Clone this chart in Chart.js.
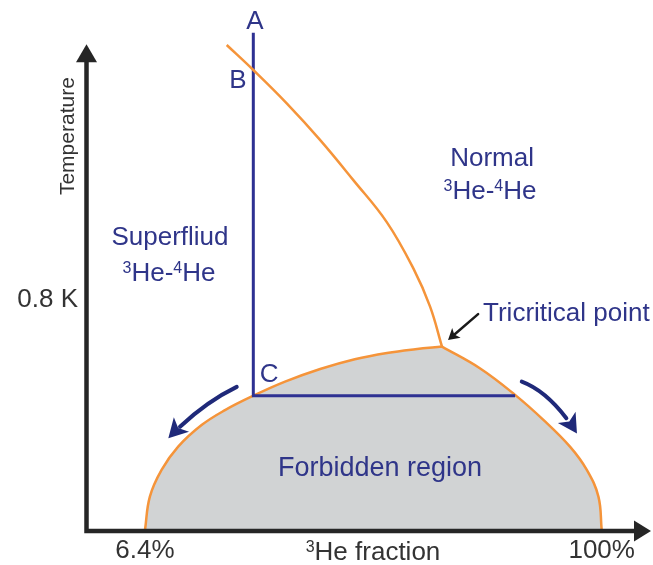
<!DOCTYPE html>
<html>
<head>
<meta charset="utf-8">
<style>
  html, body { margin: 0; padding: 0; background: #ffffff; }
  canvas { display: block; }
</style>
<script src="https://cdn.jsdelivr.net/npm/chart.js@4/dist/chart.umd.min.js"></script>
</head>
<body>
<canvas id="phase" width="653" height="565"></canvas>
<script>
// 3He–4He phase diagram: 3He fraction (%) against temperature (K)

// lambda line: superfluid / normal boundary, ending at the tricritical point
const lambdaX = [23.15, 28.6, 35.45, 42.27, 49.10, 55.95, 61.40, 64.83, 67.27];
const lambdaT = [1.687, 1.600, 1.484, 1.357, 1.217, 1.071, 0.910, 0.777, 0.638];

// phase-separation dome (tricritical point listed twice to keep the corner sharp)
const domeX = [6.4, 7.4, 9.8, 13.2, 18.0, 22.8, 28.6, 35.1, 42.3, 49.4, 56.0, 61.8, 67.27,
               67.27, 75.1, 82.25, 88.05, 93.5, 96.95, 99.33, 100];
const domeT = [0, 0.116, 0.209, 0.290, 0.365, 0.417, 0.467, 0.516, 0.560, 0.594, 0.616, 0.629, 0.638,
               0.638, 0.562, 0.470, 0.383, 0.290, 0.209, 0.116, 0];

// cooling path A -> B -> C, then the tie line across the dome
const pathX = [28.6, 28.6, 82.25];
const pathT = [1.73, 0.467, 0.467];

// axis ticks
const xTickValues = [6.4, 100];
const xTickLabels = ['6.4%', '100%'];
const yTickValues = [0.8];
const yTickLabels = ['0.8 K'];
const xTitle = '^3He fraction';
const yTitle = 'Temperature';

// styling
const FONT = '"Liberation Sans", Arial, Helvetica, sans-serif';
const NAVY = '#2f3589';
const LINE_BLUE = '#2e3192';
const ARROW_BLUE = '#1f2979';
const ORANGE = '#f5943a';
const GREY = '#d1d3d4';
const AXIS = '#262626';
const TICK = '#333333';

// text placed in data units (x in %, t in K)
const notes = [
  { text: 'A', x: 28.95, t: 1.774, size: 26, color: NAVY, align: 'center' },
  { text: 'B', x: 25.46, t: 1.571, size: 26, color: NAVY, align: 'center' },
  { text: 'C', x: 31.82, t: 0.548, size: 26, color: NAVY, align: 'center' },
  { text: 'Superfliud', x: 11.52, t: 1.022, size: 26, color: NAVY, align: 'center' },
  { text: '^3He-^4He', x: 11.32, t: 0.898, size: 26, color: NAVY, align: 'center' },
  { text: 'Normal', x: 77.53, t: 1.298, size: 26, color: NAVY, align: 'center' },
  { text: '^3He-^4He', x: 77.10, t: 1.183, size: 26, color: NAVY, align: 'center' },
  { text: 'Tricritical point', x: 75.68, t: 0.758, size: 26, color: NAVY, align: 'left' },
  { text: 'Forbidden region', x: 54.57, t: 0.221, size: 27, color: NAVY, align: 'center' }
];

// arrows: tail, bend and tip in data units
const arrows = [
  { pts: [[74.67, 0.751], [71.6, 0.706], [68.51, 0.661]], color: '#1a1a1a', width: 2.5, head: 11, half: 6.5 },
  { pts: [[25.20, 0.498], [18.02, 0.423], [11.18, 0.319]], color: ARROW_BLUE, width: 4, head: 19, half: 10.5 },
  { pts: [[83.62, 0.516], [89.43, 0.452], [94.93, 0.336]], color: ARROW_BLUE, width: 4, head: 19, half: 10.5 }
];

function parseRich(str) {
  const runs = [];
  const re = /\^(\d)|[^^]+/g;
  let m;
  while ((m = re.exec(str)) !== null) {
    if (m[1] !== undefined) runs.push({ t: m[1], sup: true });
    else runs.push({ t: m[0], sup: false });
  }
  return runs;
}

function drawRich(ctx, str, x, cy, size, color, align) {
  const runs = parseRich(str);
  const main = size + 'px ' + FONT;
  const sup = Math.round(size * 0.62) + 'px ' + FONT;
  let w = 0;
  runs.forEach(r => { ctx.font = r.sup ? sup : main; r.w = ctx.measureText(r.t).width; w += r.w; });
  let px = align === 'left' ? x : x - w / 2;
  const base = cy + size * 0.358;
  ctx.fillStyle = color;
  ctx.textAlign = 'left';
  ctx.textBaseline = 'alphabetic';
  runs.forEach(r => {
    ctx.font = r.sup ? sup : main;
    ctx.fillText(r.t, px, r.sup ? base - size * 0.33 : base);
    px += r.w;
  });
}

function arrowHead(ctx, tx, ty, ang, len, half, color) {
  const c = Math.cos(ang), s = Math.sin(ang);
  const bx = tx - c * len, by = ty - s * len;
  const nx = tx - c * len * 0.75, ny = ty - s * len * 0.75;
  ctx.fillStyle = color;
  ctx.beginPath();
  ctx.moveTo(tx, ty);
  ctx.lineTo(bx - s * half, by + c * half);
  ctx.lineTo(nx, ny);
  ctx.lineTo(bx + s * half, by - c * half);
  ctx.closePath();
  ctx.fill();
}

const phasePlugin = {
  id: 'phaseDiagram',
  afterDatasetsDraw(chart) {
    const { ctx, chartArea, scales } = chart;
    const xs = scales.x, ys = scales.y;
    ctx.save();

    // axes with arrowheads
    const ox = chartArea.left + 0.5, oy = chartArea.bottom + 1;
    const yTop = ys.getPixelForValue(1.69);
    const xEnd = chartArea.right + 1;
    ctx.strokeStyle = AXIS;
    ctx.lineWidth = 4.5;
    ctx.lineCap = 'butt';
    ctx.beginPath();
    ctx.moveTo(ox, oy + 2.25);
    ctx.lineTo(ox, yTop + 14);
    ctx.moveTo(ox - 2.25, oy);
    ctx.lineTo(xEnd - 14, oy);
    ctx.stroke();
    ctx.fillStyle = AXIS;
    ctx.beginPath();
    ctx.moveTo(ox, yTop);
    ctx.lineTo(ox - 10.5, yTop + 18);
    ctx.lineTo(ox + 10.5, yTop + 18);
    ctx.closePath();
    ctx.fill();
    ctx.beginPath();
    ctx.moveTo(xEnd, oy);
    ctx.lineTo(xEnd - 17, oy - 10.5);
    ctx.lineTo(xEnd - 17, oy + 10.5);
    ctx.closePath();
    ctx.fill();

    // curved arrows
    arrows.forEach(a => {
      const p = a.pts.map(q => [xs.getPixelForValue(q[0]), ys.getPixelForValue(q[1])]);
      const p0 = p[0], p2 = p[2];
      const c = [2 * p[1][0] - (p0[0] + p2[0]) / 2, 2 * p[1][1] - (p0[1] + p2[1]) / 2];
      const ang = Math.atan2(p2[1] - c[1], p2[0] - c[0]);
      const L = Math.hypot(p2[0] - p0[0], p2[1] - p0[1]);
      const t1 = Math.max(0.5, 1 - (a.head * 0.8) / L);
      const q = (u, i) => (1 - u) * (1 - u) * p0[i] + 2 * (1 - u) * u * c[i] + u * u * p2[i];
      const c1 = [p0[0] + t1 * (c[0] - p0[0]), p0[1] + t1 * (c[1] - p0[1])];
      ctx.strokeStyle = a.color;
      ctx.lineWidth = a.width;
      ctx.lineCap = 'round';
      ctx.beginPath();
      ctx.moveTo(p0[0], p0[1]);
      ctx.quadraticCurveTo(c1[0], c1[1], q(t1, 0), q(t1, 1));
      ctx.stroke();
      arrowHead(ctx, p2[0], p2[1], ang, a.head, a.half, a.color);
    });
    ctx.restore();
  },
  afterDraw(chart) {
    const { ctx, chartArea, scales } = chart;
    const xs = scales.x, ys = scales.y;
    ctx.save();
    notes.forEach(n => {
      drawRich(ctx, n.text, xs.getPixelForValue(n.x), ys.getPixelForValue(n.t), n.size, n.color, n.align);
    });
    // axis titles
    drawRich(ctx, xTitle, (chartArea.left + chartArea.right) / 2 + 5, chartArea.bottom + 21, 26, TICK, 'center');
    ctx.translate(chartArea.left - 18, ys.getPixelForValue(1.37));
    ctx.rotate(-Math.PI / 2);
    ctx.font = '21px ' + FONT;
    ctx.fillStyle = TICK;
    ctx.textAlign = 'center';
    ctx.textBaseline = 'middle';
    ctx.fillText(yTitle, 0, 0);
    ctx.restore();
  }
};

const toPoints = (xv, tv) => xv.map((v, i) => ({ x: v, y: tv[i] }));

// keep the plot area flush with the canvas edges
const noEdgePadding = s => {
  s.paddingTop = 0; s.paddingBottom = 0; s.paddingLeft = 0; s.paddingRight = 0;
};

new Chart(document.getElementById('phase'), {
  type: 'line',
  data: {
    datasets: [
      {
        label: 'Forbidden region',
        data: toPoints(domeX, domeT),
        borderColor: ORANGE,
        borderWidth: 2.5,
        backgroundColor: GREY,
        fill: 'origin',
        tension: 0.4,
        pointRadius: 0,
        order: 3
      },
      {
        label: 'Cooling path',
        data: toPoints(pathX, pathT),
        borderColor: LINE_BLUE,
        borderWidth: 3,
        fill: false,
        tension: 0,
        pointRadius: 0,
        borderJoinStyle: 'miter',
        order: 2
      },
      {
        label: 'Lambda line',
        data: toPoints(lambdaX, lambdaT),
        borderColor: ORANGE,
        borderWidth: 2.5,
        fill: false,
        tension: 0.4,
        pointRadius: 0,
        order: 1
      }
    ]
  },
  options: {
    responsive: false,
    animation: false,
    devicePixelRatio: 1,
    layout: { padding: { left: 0, right: 3, top: 0, bottom: 0 }, autoPadding: false },
    plugins: { legend: { display: false }, tooltip: { enabled: false } },
    scales: {
      x: {
        type: 'linear',
        min: -5.69,
        max: 109.9,
        grid: { display: false, drawTicks: false },
        border: { display: false },
        afterBuildTicks: s => { s.ticks = xTickValues.map(v => ({ value: v })); },
        afterFit: s => { s.height = 35; noEdgePadding(s); },
        ticks: {
          callback: (v, i) => xTickLabels[i],
          font: { family: FONT, size: 26 },
          color: TICK,
          padding: 5,
          maxRotation: 0,
          autoSkip: false
        }
      },
      y: {
        type: 'linear',
        min: 0,
        max: 1.8435,
        grid: { display: false, drawTicks: false },
        border: { display: false },
        afterBuildTicks: s => { s.ticks = yTickValues.map(v => ({ value: v })); },
        afterFit: s => { s.width = 86; noEdgePadding(s); },
        ticks: {
          callback: (v, i) => yTickLabels[i],
          font: { family: FONT, size: 26 },
          color: TICK,
          padding: 8,
          autoSkip: false
        }
      }
    }
  },
  plugins: [phasePlugin]
});
</script>
</body>
</html>
